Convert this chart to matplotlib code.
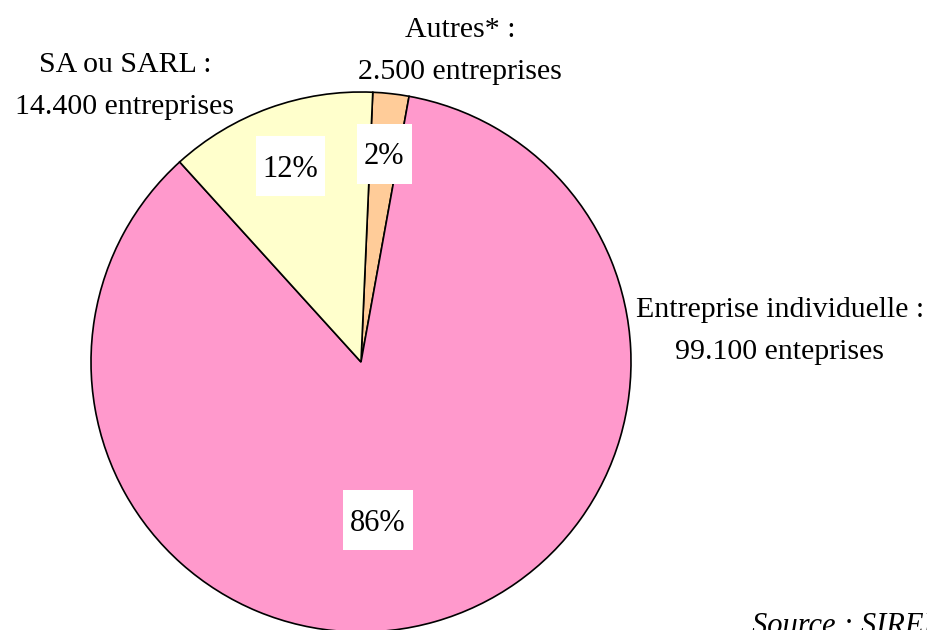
import numpy as np
import matplotlib.pyplot as plt
from matplotlib.patches import Rectangle

categories = ['Autres*', 'Entreprise individuelle', 'SA ou SARL']
counts = [2500, 99100, 14400]
pct_labels = ['2%', '86%', '12%']
outer_labels = ['Autres* :\n2.500 entreprises',
                'Entreprise individuelle :\n99.100 enteprises',
                'SA ou SARL :\n14.400 entreprises']
colors = ['#FFCC99', '#FF99CC', '#FFFFCC']

plt.rcParams['font.family'] = ['Liberation Serif', 'DejaVu Serif']

W, H = 928, 630
fig = plt.figure(figsize=(W / 100, H / 100), dpi=100)
cx, cy, R = 361, 362, 270
ax = fig.add_axes([(cx - R) / W, (H - cy - R) / H, 2 * R / W, 2 * R / H])

wedges, _ = ax.pie(counts, colors=colors, startangle=87.5, counterclock=False,
                   radius=1, wedgeprops=dict(edgecolor='black', linewidth=1.2))
ax.set_xlim(-1, 1)
ax.set_ylim(-1, 1)
ax.set_aspect('equal')
ax.axis('off')

# percentage labels in white boxes
pct_dist = [0.777, 0.59, 0.77]
pct_angle_shift = [0, -9.8, 0]
renderer = fig.canvas.get_renderer()
for w, lab, d, s in zip(wedges, pct_labels, pct_dist, pct_angle_shift):
    ang = np.deg2rad((w.theta1 + w.theta2) / 2 + s)
    x, y = d * np.cos(ang), d * np.sin(ang)
    t = ax.text(x, y - 3 / R, lab, ha='center', va='center', fontsize=22, zorder=5)
    bw = (t.get_window_extent(renderer).width + 14) / R
    bh = 60 / R
    ax.add_patch(Rectangle((x - bw / 2, y - bh / 2), bw, bh, facecolor='white',
                           edgecolor='none', zorder=4))


def px(x, y):
    return ((x - cx) / R, (cy - y) / R)


label_pos = [px(460, 51), px(780, 331), px(125, 86)]
for lab, (x, y) in zip(outer_labels, label_pos):
    ax.text(x, y, lab, ha='center', va='center', fontsize=21.5, linespacing=1.78)

fig.text(752 / W, 1 - 634 / H, 'Source : SIRENE', fontsize=22, style='italic',
         ha='left', va='baseline')

fig.savefig('out.png', dpi=100)
